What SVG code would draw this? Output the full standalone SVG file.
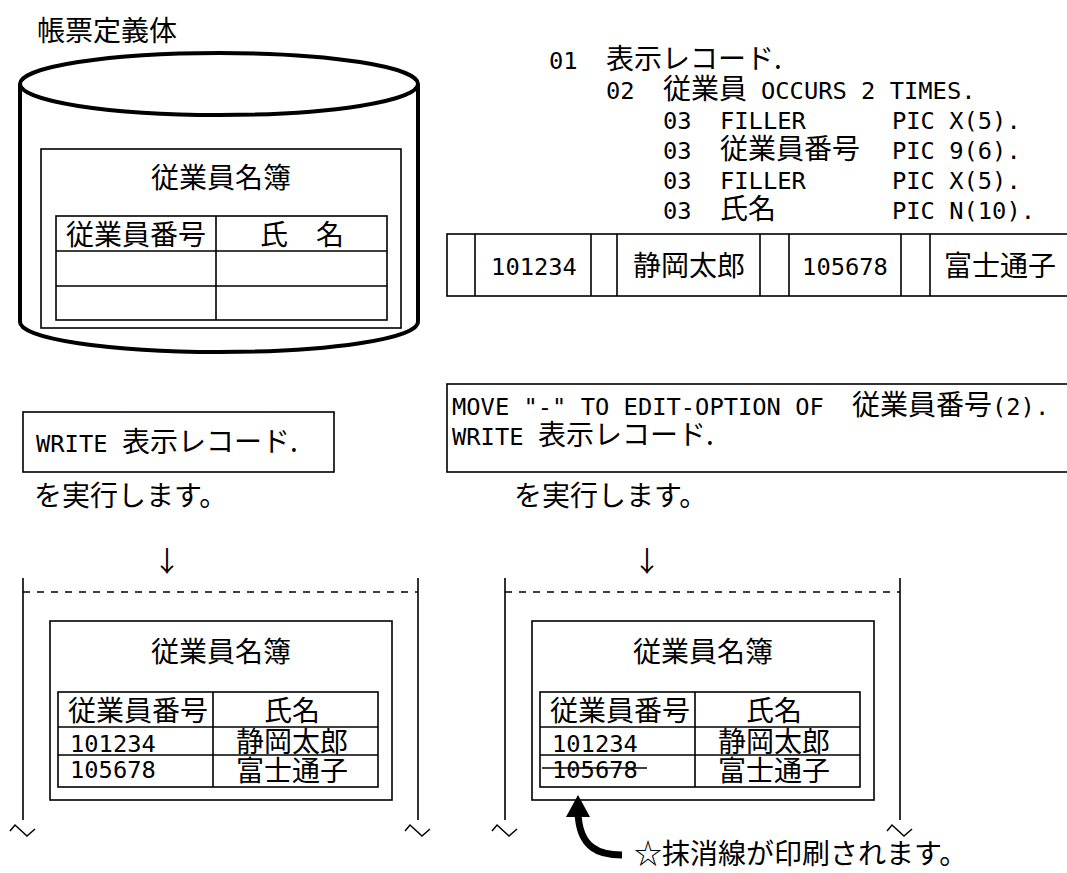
<svg xmlns="http://www.w3.org/2000/svg" width="1067" height="873" viewBox="0 0 1067 873">
<style>
.j{font-family:"Noto Sans CJK JP","Noto Sans CJK SC",sans-serif;font-size:28px;fill:#000}
.m{font-family:"DejaVu Sans Mono","Liberation Mono",monospace;font-size:23.75px;fill:#000}
.ln{fill:none;stroke:#000;stroke-width:1.6}
.thick{fill:#fff;stroke:#000;stroke-width:4}
.dash{fill:none;stroke:#000;stroke-width:1.5;stroke-dasharray:7 7}
.brk{fill:none;stroke:#000;stroke-width:1.5}
.mid{text-anchor:middle}
</style>
<rect x="0" y="0" width="1067" height="873" fill="#fff"/>

<g id="form-definition">
<text class="j" x="37" y="41">帳票定義体</text>
<path class="thick" d="M20,84 V322 A199,30 0 0 0 418,322 V84"/>
<ellipse class="thick" cx="219" cy="84" rx="199" ry="31"/>
<rect class="ln" x="41" y="149" width="360" height="179"/>
<text class="j mid" x="221" y="188">従業員名簿</text>
<rect class="ln" x="56" y="216" width="331" height="104"/>
<path class="ln" d="M56,251 H387 M56,286 H387 M216,216 V320"/>
<text class="j mid" x="136" y="245">従業員番号</text>
<text class="j mid" x="302" y="245">氏　名</text>
</g>

<g id="record-definition">
<text y="69"><tspan class="m" x="549">01</tspan><tspan class="j" x="606">表示レコード.</tspan></text>
<text y="99"><tspan class="m" x="606">02</tspan><tspan class="j" x="663">従業員</tspan><tspan class="m" x="761">OCCURS 2 TIMES.</tspan></text>
<text y="129"><tspan class="m" x="663">03</tspan><tspan class="m" x="720">FILLER</tspan><tspan class="m" x="892">PIC X(5).</tspan></text>
<text y="159"><tspan class="m" x="663">03</tspan><tspan class="j" x="720">従業員番号</tspan><tspan class="m" x="892">PIC 9(6).</tspan></text>
<text y="189"><tspan class="m" x="663">03</tspan><tspan class="m" x="720">FILLER</tspan><tspan class="m" x="892">PIC X(5).</tspan></text>
<text y="219"><tspan class="m" x="663">03</tspan><tspan class="j" x="720">氏名</tspan><tspan class="m" x="892">PIC N(10).</tspan></text>
</g>

<g id="record-image">
<rect class="ln" x="447" y="234" width="630" height="62"/>
<path class="ln" d="M475,234 V296 M591,234 V296 M617,234 V296 M760,234 V296 M789,234 V296 M901,234 V296 M930,234 V296"/>
<text class="m mid" x="534" y="275">101234</text>
<text class="j mid" x="689" y="276">静岡太郎</text>
<text class="m mid" x="845" y="275">105678</text>
<text class="j" x="944" y="276">富士通子</text>
</g>

<g id="write-statement">
<rect class="ln" x="23" y="412" width="311" height="60"/>
<text y="452"><tspan class="m" x="36">WRITE</tspan><tspan class="j" x="122">表示レコード.</tspan></text>
<text class="j" x="34" y="506">を実行します。</text>
</g>

<g id="move-write-statement">
<rect class="ln" x="447" y="384" width="630" height="88"/>
<text y="415"><tspan class="m" x="452">MOVE "-" TO EDIT-OPTION OF</tspan><tspan class="j" x="852">従業員番号</tspan><tspan class="m" x="992">(2).</tspan></text>
<text y="445"><tspan class="m" x="452">WRITE</tspan><tspan class="j" x="538">表示レコード.</tspan></text>
<text class="j" x="514" y="506">を実行します。</text>
</g>

<g id="output-normal">
<path class="ln" d="M23,578 V820 M418,578 V820"/>
<path class="dash" d="M23,592 H418"/>
<polyline class="brk" points="10,831 15,825 27,836 35,829"/>
<polyline class="brk" points="405,831 410,825 422,836 430,829"/>
<rect class="ln" x="50" y="621" width="342" height="179"/>
<text class="j mid" x="221" y="662">従業員名簿</text>
<rect class="ln" x="58" y="692" width="320" height="95"/>
<path class="ln" d="M58,727 H378 M58,755 H378 M213,692 V787"/>
<text class="j" x="68" y="721">従業員番号</text>
<text class="j mid" x="292" y="721">氏名</text>
<text class="m" x="70" y="752">101234</text>
<text class="j mid" x="292" y="752">静岡太郎</text>
<text class="m" x="70" y="778">105678</text>
<text class="j mid" x="292" y="781">富士通子</text>
</g>

<g id="output-strikeout">
<path class="ln" d="M505,578 V820 M900,578 V820"/>
<path class="dash" d="M505,592 H900"/>
<polyline class="brk" points="492,831 497,825 509,836 517,829"/>
<polyline class="brk" points="887,831 892,825 904,836 912,829"/>
<rect class="ln" x="532" y="621" width="342" height="179"/>
<text class="j mid" x="703" y="662">従業員名簿</text>
<rect class="ln" x="540" y="692" width="320" height="95"/>
<path class="ln" d="M540,727 H860 M540,755 H860 M695,692 V787"/>
<text class="j" x="550" y="721">従業員番号</text>
<text class="j mid" x="774" y="721">氏名</text>
<text class="m" x="552" y="752">101234</text>
<text class="j mid" x="774" y="752">静岡太郎</text>
<text class="m" x="552" y="778">105678</text>
<path class="ln" d="M542,768 H647"/>
<text class="j mid" x="774" y="781">富士通子</text>
<text class="j" x="634" y="864">☆抹消線が印刷されます。</text>
</g>

<g id="connectors">
<text class="j mid" x="167" y="572">↓</text>
<text class="j mid" x="647" y="572">↓</text>
<path d="M622,855 C600,855 579,849 578,812" fill="none" stroke="#000" stroke-width="7"/>
<polygon points="566,817 590,817 578,795" fill="#000"/>
</g>
</svg>
